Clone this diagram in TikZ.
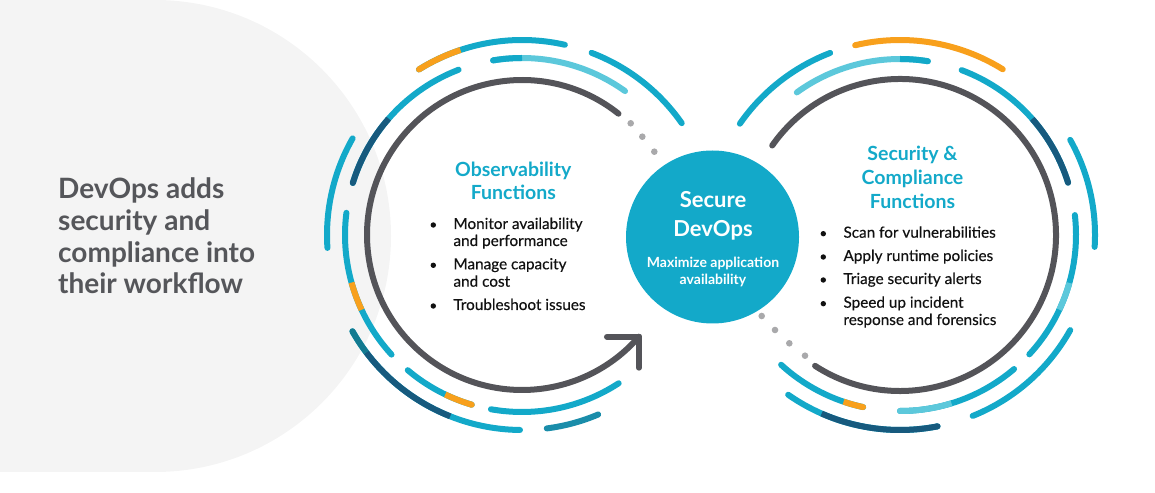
\documentclass[tikz,border=0pt]{standalone}
\usepackage{fontspec}
\setmainfont{Lato}
\newfontfamily\itmfont[FakeBold=0.35]{Lato}
\usetikzlibrary{calc}
\definecolor{cTeal}{HTML}{13A9C9}
\definecolor{cLight}{HTML}{5CC8DB}
\definecolor{cDark}{HTML}{175A7E}
\definecolor{cDTeal}{HTML}{137A90}
\definecolor{cMTeal}{HTML}{1A8DAA}
\definecolor{cOrange}{HTML}{F8A01C}
\definecolor{cGray}{HTML}{545459}
\definecolor{cDot}{HTML}{A9A9AB}
\definecolor{cText}{HTML}{55565A}
\definecolor{cBg}{HTML}{F4F4F4}
\definecolor{cBody}{HTML}{111111}
\newcommand\rarc[5]{\draw[ring,#5] ($(#1)+(#3:#2)$) arc[start angle=#3,end angle=#4,radius=#2];}
\newcommand\capdot[4]{\fill[#4] ($(#1)+(#3:#2)$) circle[radius=3];}
\begin{document}
\begin{tikzpicture}[x=1pt,y=1pt,
  ring/.style={line width=6pt,line cap=round},
  piece/.style={line cap=butt},
  lead/.style={font=\fontsize{28}{32}\selectfont\bfseries,text=cText,inner sep=0,anchor=base west},
  ttl/.style={font=\fontsize{19.5}{23}\selectfont\bfseries,text=cTeal,inner sep=0,anchor=base},
  itm/.style={font=\itmfont\fontsize{15.3}{17}\selectfont,text=cBody,inner sep=0,anchor=base west},
  core/.style={font=\fontsize{22}{29}\selectfont\bfseries,text=white,inner sep=0,anchor=base},
  sub/.style={font=\fontsize{14}{17}\selectfont\bfseries,text=white,inner sep=0,anchor=base},
  bul/.style={circle,fill=cBody,inner sep=0,minimum size=5.4pt}]
\useasboundingbox (0,0) rectangle (1155,492);
% background
\fill[cBg] (0,492) -- (155,492) arc[start angle=90,end angle=-90,radius=236] -- (0,20) -- cycle;
% left text
\node[lead] (l1) at (58,293.7) {DevOps adds};
\node[lead] (l2) at (58,261.7) {security and};
\node[lead] (l3) at (58,229.7) {compliance into};
\node[lead] (l4) at (58,198.7) {their workflow};
% centers
\coordinate (L) at (522,257);
\coordinate (R) at (900,257);
% ---- left cluster ----
\rarc{L}{155}{51.5}{319}{cGray}
\coordinate (E) at ($(L)+(319:155)$);
\draw[ring,cGray,line join=round] ($(E)+(-32,0)$) -- (E) -- ($(E)+(0,-31)$);
\fill[cDot] (630.7,368.7) circle[radius=3.3];
\fill[cDot] (642.3,355.3) circle[radius=3.3];
\fill[cDot] (654.3,340.3) circle[radius=3.3];
% ring B left
\rarc{L}{177}{54.4}{99.4}{cLight}
\rarc{L}{177}{90}{99.4}{cTeal,piece}
\capdot{L}{177}{99.4}{cTeal}
\rarc{L}{177}{111}{162.9}{cTeal}
\rarc{L}{177}{138.9}{162.9}{cDark,piece}
\capdot{L}{177}{162.9}{cDark}
\rarc{L}{177}{172.8}{222.5}{cTeal}
\rarc{L}{177}{195.6}{205}{cOrange,piece}
\rarc{L}{177}{229.8}{253.5}{cTeal}
\rarc{L}{177}{244.3}{253.5}{cOrange,piece}
\capdot{L}{177}{253.5}{cOrange}
\rarc{L}{177}{259.9}{303.1}{cTeal}
% ring C left
\rarc{L}{195}{77.3}{121.9}{cTeal}
\rarc{L}{195}{108.4}{121.9}{cOrange,piece}
\capdot{L}{195}{121.9}{cOrange}
\rarc{L}{195}{35}{69.1}{cTeal}
\rarc{L}{195}{150.3}{183.8}{cTeal}
\rarc{L}{195}{209.6}{269.4}{cTeal}
\rarc{L}{195}{217}{248.4}{cDark,piece}
\rarc{L}{195}{209.6}{217}{cDTeal,piece}
\capdot{L}{195}{209.6}{cDTeal}
\rarc{L}{195}{277.3}{293}{cMTeal}
% ---- right cluster ----
\rarc{R}{156}{145}{-123}{cGray}
\fill[cDot] (761.7,176) circle[radius=3.3];
\fill[cDot] (775,162) circle[radius=3.3];
\fill[cDot] (789.3,148.7) circle[radius=3.3];
\fill[cDot] (805,136.3) circle[radius=3.3];
% ring B right
\rarc{R}{176}{80.9}{125.9}{cLight}
\rarc{R}{176}{80.9}{90}{cTeal,piece}
\capdot{R}{176}{80.9}{cTeal}
\rarc{R}{176}{17.3}{69.5}{cTeal}
\rarc{R}{176}{17.3}{41.3}{cDark,piece}
\capdot{R}{176}{17.3}{cDark}
\rarc{R}{176}{-42.7}{6.5}{cTeal}
\rarc{R}{176}{-25.1}{-15.8}{cLight,piece}
\rarc{R}{176}{-90}{-49.6}{cTeal}
\rarc{R}{176}{-90}{-73}{cLight,piece}
\capdot{R}{176}{-90}{cLight}
\rarc{R}{176}{-132.5}{-102.1}{cTeal}
\rarc{R}{176}{-108.7}{-102.1}{cOrange,piece}
\capdot{R}{176}{-102.1}{cOrange}
% ring C right
\rarc{R}{195}{58.2}{103.3}{cOrange}
\rarc{R}{195}{111}{145.2}{cTeal}
\rarc{R}{195}{-3.5}{29.2}{cTeal}
\rarc{R}{195}{-68.1}{-29.2}{cTeal}
\rarc{R}{195}{-125}{-78.9}{cTeal}
\rarc{R}{195}{-113.7}{-78.9}{cDark,piece}
\capdot{R}{195}{-78.9}{cDark}
% ---- center ----
\node[circle,fill=cTeal,minimum size=173pt,inner sep=0] (hub) at (712.5,255) {};
\node[core] (c1) at (713,284.3) {Secure};
\node[core] (c2) at (713,255.3) {DevOps};
\node[sub] (c3) at (713,224.7) {Maximize application};
\node[sub] (c4) at (713,207) {availability};
% ---- left texts ----
\node[ttl] (t1) at (513.3,315.3) {Observability};
\node[ttl] (t2) at (513.3,292.7) {Functions};
\node[bul] (b1) at (433.3,267) {};
\node[itm] (i1) at (453.3,263) {Monitor availability};
\node[itm] (i1b) at (453.3,246) {and performance};
\node[bul] (b2) at (433.3,226.7) {};
\node[itm] (i2) at (453.3,222.7) {Manage capacity};
\node[itm] (i2b) at (453.3,205.3) {and cost};
\node[bul] (b3) at (433.3,186) {};
\node[itm] (i3) at (453.3,182) {Troubleshoot issues};
% ---- right texts ----
\node[ttl] (s1) at (912.5,331.3) {Security \&};
\node[ttl] (s2) at (912.5,307) {Compliance};
\node[ttl] (s3) at (912.5,283.7) {Functions};
\node[bul] (d1) at (823.3,258.3) {};
\node[itm] (j1) at (843.3,254.3) {Scan for vulnerabilities};
\node[bul] (d2) at (823.3,235) {};
\node[itm] (j2) at (843.3,231) {Apply runtime policies};
\node[bul] (d3) at (823.3,212) {};
\node[itm] (j3) at (843.3,208) {Triage security alerts};
\node[bul] (d4) at (823.3,188.3) {};
\node[itm] (j4) at (843.3,184.3) {Speed up incident};
\node[itm] (j4b) at (843.3,167) {response and forensics};
\end{tikzpicture}
\end{document}
